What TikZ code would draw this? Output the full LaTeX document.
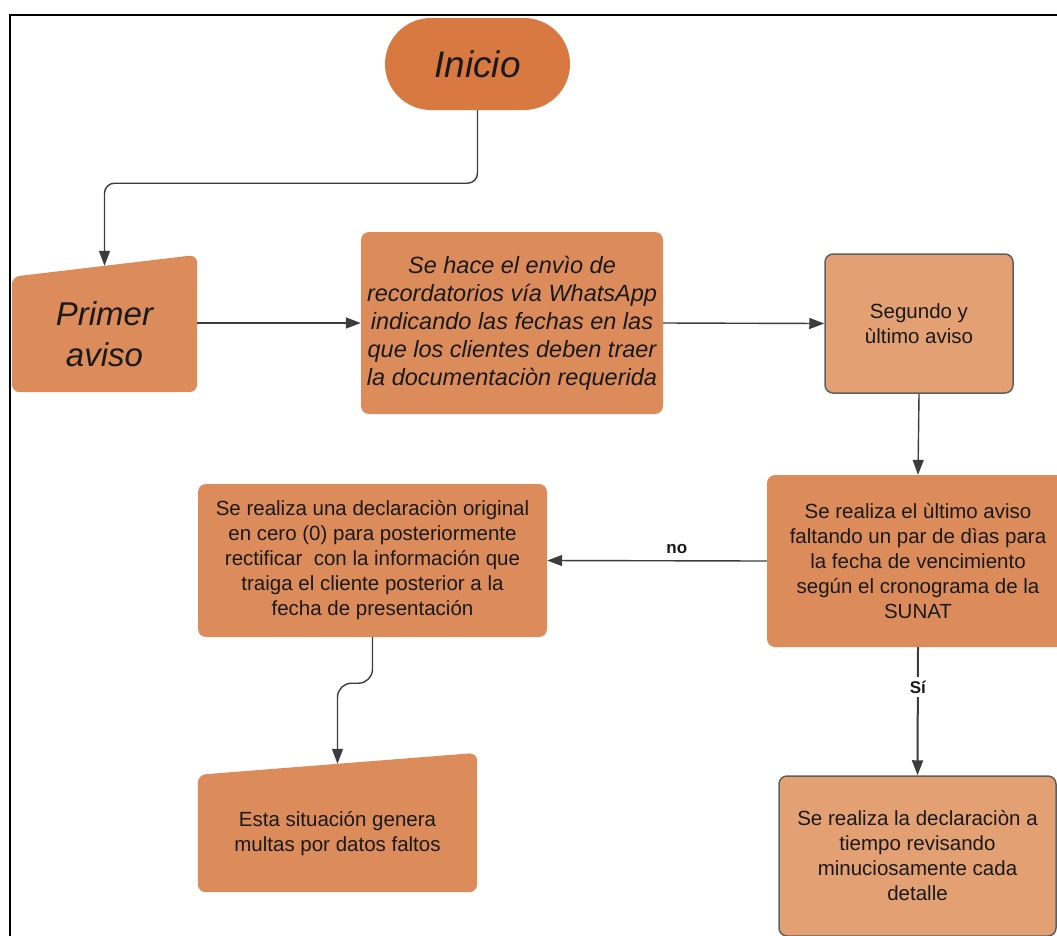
\documentclass[tikz,border=0pt]{standalone}
\usepackage{fontspec}
\setmainfont{Liberation Sans}
\usetikzlibrary{arrows.meta,calc,backgrounds}
\definecolor{inicioC}{RGB}{216,121,66}
\definecolor{boxC}{RGB}{220,140,90}
\definecolor{lightC}{RGB}{227,161,115}
\definecolor{lineC}{RGB}{60,60,60}
\definecolor{edgeC}{RGB}{95,95,95}
\tikzset{
	box/.style={fill=boxC, rounded corners=8pt, align=center, text=black!90, font=\fontsize{20.5}{25}\selectfont},
	lbox/.style={box, fill=lightC, draw=edgeC, line width=1.5pt},
	slant/.style={align=center, text=black!90},
	arr/.style={draw=lineC, line width=1.4pt, -{Triangle[length=15pt,width=11pt]}},
	lbl/.style={font=\fontsize{17}{20}\selectfont\bfseries, text=black!90},
}
\begin{document}
\begin{tikzpicture}[x=1pt,y=1pt]
		\useasboundingbox (0,0) rectangle (1057,-935);
		\draw[line width=1.5pt] (10,-945) |- (1070,-15);
		
		\node[box, fill=inicioC, rounded corners=46pt, minimum width=185pt, minimum height=92pt, font=\fontsize{37}{42}\selectfont\itshape] (inicio) at (477.5,-64) {Inicio};
		
		\node[slant, minimum width=185pt, minimum height=115pt, font=\fontsize{33}{41}\selectfont\itshape] (primer) at (104.5,-334.5) {Primer\\aviso};
		\coordinate (primer-nw) at (primer.north west); \coordinate (primer-ne) at ($(primer.north east)+(0,22)$);
		\coordinate (primer-in) at ($(primer-nw)!0.5!(primer-ne)$);
		
		\node[box, minimum width=302pt, minimum height=182pt, font=\fontsize{23.5}{28}\selectfont\itshape] (envio) at (512,-323) {Se hace el envìo de\\recordatorios vía WhatsApp\\indicando las fechas en las\\que los clientes deben traer\\la documentaciòn requerida};
		\node[lbox, minimum width=188pt, minimum height=139pt] (segundo) at (919,-323.5) {Segundo y\\ùltimo aviso};
		
		\node[box, minimum width=302pt, minimum height=172pt] (ultimo) at (918,-561) {Se realiza el ùltimo aviso\\faltando un par de dìas para\\la fecha de vencimiento\\según el cronograma de la\\SUNAT};
		\node[box, minimum width=349pt, minimum height=153pt] (decl) at (372.5,-560.5) {Se realiza una declaraciòn original\\en cero (0) para posteriormente\\rectificar\ \ con la información que\\traiga el cliente posterior a la\\fecha de presentación};
		
		\node[slant, minimum width=279pt, minimum height=117pt, font=\fontsize{20.5}{25}\selectfont] (esta) at (337.5,-833.5) {Esta situación genera\\multas por datos faltos};
		\coordinate (esta-nw) at (esta.north west); \coordinate (esta-ne) at ($(esta.north east)+(0,22)$);
		\coordinate (esta-in) at ($(esta-nw)!0.5!(esta-ne)$);
		\node[lbox, minimum width=277pt, minimum height=160pt] (tiempo) at (917.5,-856) {Se realiza la declaraciòn a\\tiempo revisando\\minuciosamente cada\\detalle};
		
		\begin{scope}[on background layer]
			\fill[boxC, rounded corners=8pt] (primer.south west) -- (primer-nw) -- (primer-ne) -- (primer.south east) -- cycle;
			\fill[boxC, rounded corners=8pt] (esta.south west) -- (esta-nw) -- (esta-ne) -- (esta.south east) -- cycle;
		\end{scope}
		
		\draw[arr, rounded corners=10pt] (inicio.south) -- ++(0,-73) -| (primer-in);
		\draw[arr] (primer.east |- envio.west) -- (envio.west);
		\draw[arr] (envio.east) -- (segundo.west);
		\draw[arr] (segundo.south) -- (ultimo.north);
		\draw[arr] (ultimo.west) -- node[lbl, above=3pt, pos=0.41] {no} (decl.east);
		\draw[arr, line width=2pt] (ultimo.south) -- node[lbl, fill=white, pos=0.31] {Sí} (tiempo.north);
		\draw[arr, rounded corners=14pt] (decl.south) -- ++(0,-46) -| (esta-in);
\end{tikzpicture}
\end{document}
